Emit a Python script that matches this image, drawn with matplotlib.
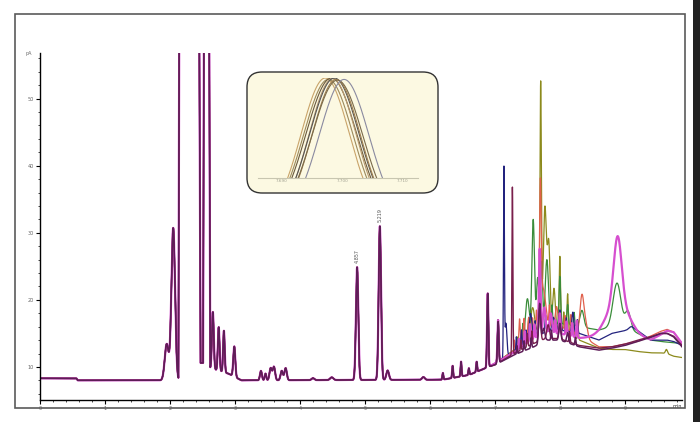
import numpy as np
import matplotlib
matplotlib.use("Agg")
import matplotlib.pyplot as plt
from matplotlib.patches import Rectangle, FancyBboxPatch
from matplotlib.transforms import IdentityTransform
from matplotlib.ticker import MultipleLocator

# retention time grid (min)
t = np.linspace(0, 9.88, 9000)

# baseline shared by every run (min, pA); the 90 pA stretches are the off-scale solvent front
base_t = [0, 0.56, 0.58, 2.13, 2.15, 2.44, 2.47, 2.51, 2.53, 2.595, 2.62, 2.9, 3.1, 6.2, 6.6, 6.9]
base_y = [8.3, 8.3, 8.0, 8.0, 90, 90, 10.6, 10.6, 90, 90, 9.8, 9.0, 8.0, 8.1, 8.8, 10.0]

# peak table shared by every run: retention time, height above baseline, width (sigma)
shared_rt = [1.95, 2.05, 2.66, 2.75, 2.83, 2.99, 3.40, 3.47, 3.55, 3.60, 3.72, 3.78,
             4.20, 4.49, 4.88, 5.23, 5.35, 5.90, 6.20, 6.35, 6.48, 6.60, 6.72, 6.89, 7.05]
shared_h = [5.4, 22.7, 8.5, 6.5, 6.2, 4.5, 1.4, 1.0, 1.8, 2.0, 1.4, 1.8,
            0.3, 0.4, 16.8, 22.9, 1.4, 0.4, 1.0, 1.8, 2.2, 1.0, 1.5, 11.0, 6.2]
shared_w = [0.03, 0.028, 0.014, 0.013, 0.012, 0.015, 0.015, 0.012, 0.018, 0.018, 0.018, 0.018,
            0.02, 0.025, 0.018, 0.018, 0.02, 0.02, 0.008, 0.008, 0.008, 0.008, 0.008, 0.01, 0.01]

# late part differs per run: baseline levels at these times ...
late_t = [7.0, 7.3, 7.6, 7.8, 8.0, 8.3, 8.6, 8.8, 9.0, 9.2, 9.4, 9.55, 9.65, 9.75, 9.88]
olive_base = [10.5, 12.5, 15.0, 16.0, 15.5, 14.0, 12.8, 12.6, 12.6, 12.3, 12.1, 12.1, 12.0, 11.6, 11.4]
green_base = [10.5, 12.5, 15.0, 16.0, 16.5, 16.0, 15.5, 16.0, 16.0, 15.0, 14.0, 13.8, 13.7, 13.6, 13.5]
red_base = [10.5, 12.5, 15.0, 16.0, 16.0, 14.8, 13.0, 13.0, 13.4, 13.8, 14.6, 15.3, 15.6, 15.2, 13.5]
navy_base = [10.5, 12.3, 14.3, 15.3, 15.5, 15.0, 14.0, 15.0, 15.4, 15.4, 14.0, 14.0, 14.0, 13.8, 13.2]
magenta_base = [10.5, 12.2, 14.3, 15.0, 15.0, 14.3, 14.3, 15.0, 15.0, 14.3, 14.0, 14.8, 15.4, 15.2, 13.5]
maroon_base = [10.3, 12.0, 13.5, 14.3, 14.2, 13.2, 12.8, 13.0, 13.4, 14.0, 14.5, 15.0, 15.0, 14.6, 13.2]
purple_base = [10.3, 11.8, 13.0, 14.0, 14.0, 13.0, 12.5, 12.8, 13.2, 13.8, 14.4, 15.0, 15.0, 14.5, 13.0]

# ... and late peaks (rt, height, sigma)
olive_peaks = [(7.35, 1.5, 0.006), (7.44, 2.0, 0.006), (7.52, 2.5, 0.008), (7.58, 4, 0.03),
               (7.705, 36.5, 0.011), (7.77, 18, 0.025), (7.83, 12, 0.02), (7.91, 6, 0.02),
               (8.00, 11, 0.01), (8.06, 3, 0.008), (8.12, 6, 0.01), (8.2, 2, 0.015),
               (8.28, 2, 0.008), (9.64, 0.6, 0.015)]
green_peaks = [(7.36, 1.5, 0.006), (7.43, 2.5, 0.008), (7.50, 6, 0.03), (7.59, 17, 0.02),
               (7.66, 8, 0.02), (7.72, 10, 0.015), (7.80, 10, 0.025), (7.88, 3, 0.008),
               (8.00, 7, 0.012), (8.12, 3, 0.012), (8.22, 2, 0.008), (8.34, 2.5, 0.03),
               (8.88, 6.5, 0.06), (9.05, 2.5, 0.04)]
red_peaks = [(7.30, 1.5, 0.006), (7.38, 4, 0.01), (7.45, 3.5, 0.01), (7.52, 3, 0.012),
             (7.58, 2.5, 0.008), (7.64, 3, 0.008), (7.70, 19, 0.013), (7.74, 6, 0.04),
             (7.84, 3, 0.008), (7.95, 3, 0.02), (8.08, 2, 0.008), (8.17, 2.5, 0.008),
             (8.34, 6, 0.03), (8.40, 2, 0.03)]
navy_peaks = [(7.14, 28, 0.007), (7.17, 5, 0.015), (7.33, 2, 0.006), (7.41, 2.5, 0.008),
              (7.48, 2, 0.008), (7.55, 4, 0.02), (7.62, 2.5, 0.008), (7.69, 7, 0.015),
              (7.78, 2.5, 0.008), (7.9, 2, 0.02), (8.0, 3, 0.015), (8.1, 2, 0.008),
              (8.2, 3, 0.015), (8.27, 2, 0.008), (9.1, 0.6, 0.04)]
magenta_peaks = [(7.37, 1.5, 0.006), (7.46, 2, 0.008), (7.54, 2.5, 0.008), (7.61, 2, 0.008),
                 (7.69, 13, 0.012), (7.76, 4, 0.02), (7.86, 3, 0.02), (7.93, 2, 0.008),
                 (8.0, 3, 0.01), (8.1, 2, 0.01), (8.19, 2, 0.008), (8.26, 2.5, 0.008),
                 (8.89, 10, 0.06), (8.89, 4.5, 0.18)]
maroon_peaks = [(7.27, 25, 0.007), (7.40, 1.5, 0.006), (7.50, 2, 0.008), (7.57, 2, 0.008),
                (7.69, 5, 0.015), (7.82, 2, 0.02), (8.0, 2, 0.015), (8.15, 1.5, 0.008)]
purple_peaks = [(7.34, 1.2, 0.006), (7.45, 1.5, 0.008), (7.56, 1.5, 0.008), (7.69, 6, 0.015),
                (7.75, 2, 0.02), (7.87, 1.5, 0.008), (8.0, 2.5, 0.015), (8.12, 1.5, 0.015),
                (8.24, 1.2, 0.008)]

runs = [
    (olive_base, olive_peaks, "#8c8a1c", 0.9),
    (green_base, green_peaks, "#3a8c3a", 0.9),
    (red_base, red_peaks, "#e0604c", 0.9),
    (navy_base, navy_peaks, "#23237e", 0.9),
    (magenta_base, magenta_peaks, "#d64fcf", 1.6),
    (maroon_base, maroon_peaks, "#7a1f4c", 1.0),
    (purple_base, purple_peaks, "#5e1d58", 1.1),
]

labels_rt = [4.88, 5.23]
labels_txt = ["4.857", "5.219"]
labels_y = [25.5, 31.6]

# zoomed overlay of the 7.7 min peak
inset_rt = [7.6972, 7.6977, 7.6982, 7.6984, 7.6987, 7.6990, 7.6992, 7.7003]
inset_w = [0.0040, 0.0041, 0.0042, 0.0039, 0.0041, 0.0040, 0.0042, 0.0041]
inset_h = [1.0, 0.99, 1.0, 0.995, 1.0, 0.99, 0.985, 0.99]
inset_colors = ["#c9a46a", "#9c8a5c", "#6b5a3c", "#b89a70", "#555555", "#a08050", "#7a6a4a", "#8a8aa0"]
inset_ticks = [7.690, 7.700, 7.710]


def gauss_sum(x, peaks):
    y = np.zeros_like(x)
    for rt, h, w in peaks:
        y += h * np.exp(-(x - rt) ** 2 / (2 * w ** 2))
    return y


fig = plt.figure(figsize=(7, 4.22), dpi=100)
ax = fig.add_axes([40 / 700, 1 - 400 / 422, 642 / 700, 347 / 422])

shared = gauss_sum(t, list(zip(shared_rt, shared_h, shared_w)))
for base, peaks, color, lw in runs:
    y = np.interp(t, base_t + late_t, base_y + base) + shared + gauss_sum(t, peaks)
    ax.plot(t, y, color=color, lw=lw)

for rt, txt, ly in zip(labels_rt, labels_txt, labels_y):
    ax.text(rt, ly, txt, rotation=90, fontsize=3.5, color="#555555", ha="center", va="bottom")

ax.set_xlim(0, 9.88)
ax.set_ylim(5.07, 56.8)
ax.xaxis.set_major_locator(MultipleLocator(1))
ax.xaxis.set_minor_locator(MultipleLocator(0.2))
ax.yaxis.set_major_locator(MultipleLocator(10))
ax.yaxis.set_minor_locator(MultipleLocator(2))
ax.tick_params(which="major", length=3, width=0.8, labelsize=3.5, labelcolor="#666666", pad=1.5)
ax.tick_params(which="minor", length=1.5, width=0.5)
for s in ["top", "right"]:
    ax.spines[s].set_visible(False)
for s in ["left", "bottom"]:
    ax.spines[s].set_linewidth(1.0)
ax.text(-0.012, 1.0, "pA", transform=ax.transAxes, fontsize=3.5, color="#666666", ha="right", va="center")
ax.text(1.0, -0.012, "min", transform=ax.transAxes, fontsize=3.5, color="#333333", ha="right", va="top")

# outer frame and right edge strip
fig.patches.append(Rectangle((15 / 700, 1 - 408 / 422), 670 / 700, 394 / 422, transform=fig.transFigure,
                             fill=False, edgecolor="#5a5a5a", lw=1.2))
fig.patches.append(Rectangle((693 / 700, 0), 7 / 700, 1, transform=fig.transFigure,
                             facecolor="#222222", edgecolor="none"))

# inset box
fig.patches.append(FancyBboxPatch((247, 422 - 193), 191, 121, boxstyle="round,pad=0,rounding_size=15",
                                  transform=IdentityTransform(), facecolor="#fcf9e2",
                                  edgecolor="#333333", lw=1.0))

iax = fig.add_axes([258 / 700, 1 - 178 / 422, 160 / 700, 100 / 422])
iax.set_zorder(3)
iax.patch.set_visible(False)
ti = np.linspace(7.686, 7.7125, 600)
for rt, w, h, c in zip(inset_rt, inset_w, inset_h, inset_colors):
    iax.plot(ti, h * np.exp(-(ti - rt) ** 2 / (2 * w ** 2)), color=c, lw=0.8)
iax.set_xlim(7.6861, 7.7125)
iax.set_ylim(0.3, 1.0)
for s in ["top", "right", "left"]:
    iax.spines[s].set_visible(False)
iax.spines["bottom"].set_color("#c8c6b0")
iax.spines["bottom"].set_linewidth(0.8)
iax.set_yticks([])
iax.set_xticks(inset_ticks)
iax.set_xticklabels([f"{v:.3f}" for v in inset_ticks])
iax.tick_params(axis="x", length=0, labelsize=3, labelcolor="#a0a090", pad=1)

fig.savefig("out.png", dpi=100)
